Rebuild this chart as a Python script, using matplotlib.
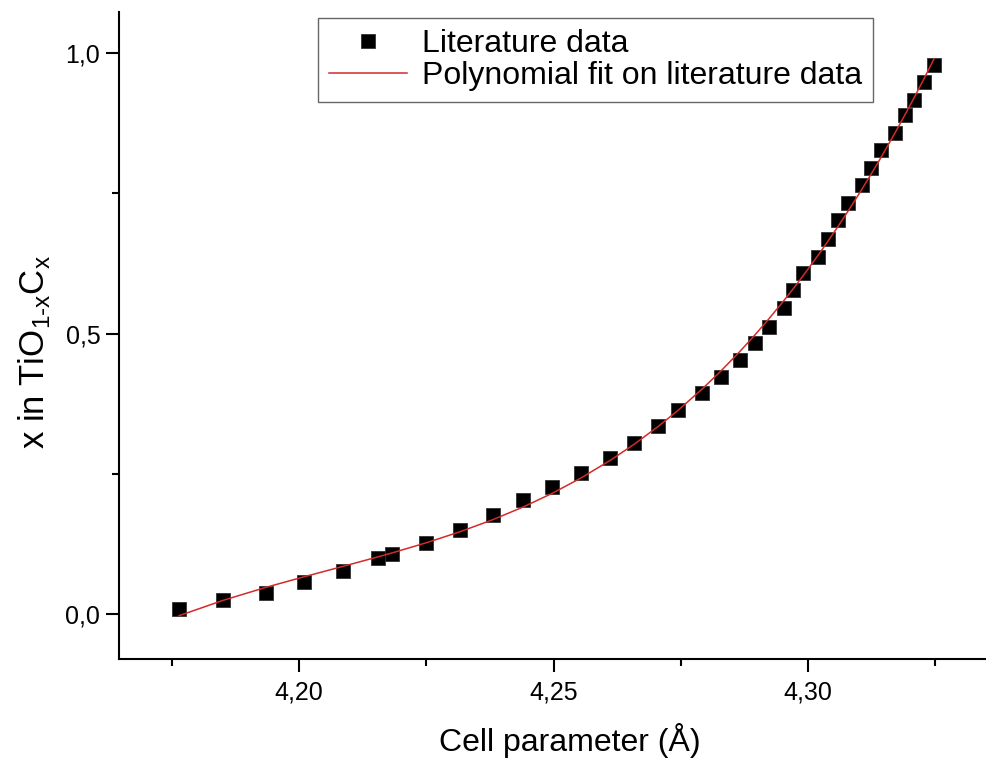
import numpy as np
import matplotlib
matplotlib.use('Agg')
import matplotlib.pyplot as plt
from matplotlib.ticker import MultipleLocator, FuncFormatter

plt.rcParams['font.family'] = ['Liberation Sans', 'DejaVu Sans']
plt.rcParams['mathtext.fontset'] = 'custom'
plt.rcParams['mathtext.rm'] = 'Liberation Sans'

# Literature data: cell parameter (Angstrom) vs carbon fraction x
cell_a = [4.1764, 4.1851, 4.1935, 4.2010, 4.2086, 4.2155, 4.2183, 4.2250,
          4.2316, 4.2381, 4.2440, 4.2497, 4.2554, 4.2611, 4.2658, 4.2705,
          4.2745, 4.2792, 4.2829, 4.2866, 4.2896, 4.2923, 4.2953, 4.2971,
          4.2990, 4.3020, 4.3039, 4.3059, 4.3079, 4.3106, 4.3124, 4.3143,
          4.3171, 4.3191, 4.3208, 4.3228, 4.3248]
x_frac = [0.009, 0.025, 0.037, 0.057, 0.077, 0.100, 0.107, 0.127,
          0.150, 0.176, 0.203, 0.226, 0.251, 0.278, 0.305, 0.335,
          0.364, 0.394, 0.422, 0.453, 0.483, 0.512, 0.545, 0.578,
          0.608, 0.636, 0.668, 0.702, 0.733, 0.765, 0.795, 0.827,
          0.857, 0.889, 0.916, 0.948, 0.979]

# Polynomial fit on the literature data
coef = np.polyfit(cell_a, x_frac, 3)
fit_y = np.polyval(coef, cell_a)

fig = plt.figure(figsize=(9.87, 7.59), dpi=100)
ax = fig.add_axes([0.1206, 0.1318, 0.8794, 0.8524])

ax.plot(cell_a, x_frac, linestyle='none', marker='s', markersize=10.5,
        color='black', markeredgecolor='#333333', markeredgewidth=0.6,
        label='Literature data', zorder=3)
ax.plot(cell_a, fit_y, color='#d42a2a', linewidth=1.1,
        label='Polynomial fit on literature data', zorder=4)

ax.set_xlim(4.1646, 4.3352)
ax.set_ylim(-0.080, 1.073)

# Origin style axes: only left and bottom, ticks out, comma decimals
ax.spines['top'].set_visible(False)
ax.spines['right'].set_visible(False)
for s in ['left', 'bottom']:
    ax.spines[s].set_linewidth(1.5)

ax.xaxis.set_major_locator(MultipleLocator(0.05))
ax.xaxis.set_minor_locator(MultipleLocator(0.025))
ax.yaxis.set_major_locator(MultipleLocator(0.5))
ax.yaxis.set_minor_locator(MultipleLocator(0.25))
ax.xaxis.set_major_formatter(FuncFormatter(lambda v, p: f"{v:.2f}".replace('.', ',')))
ax.yaxis.set_major_formatter(FuncFormatter(lambda v, p: f"{v:.1f}".replace('.', ',')))
ax.tick_params(which='major', direction='out', length=9.5, width=1.5,
               labelsize=18)
ax.tick_params(axis='x', which='major', pad=6)
ax.tick_params(axis='y', which='major', pad=4)
ax.tick_params(which='minor', direction='out', length=5, width=1.5)

ax.set_xlabel('Cell parameter (Å)', fontsize=23)
ax.set_ylabel(r'x in TiO$_{\text{1-x}}$C$_{\text{x}}$', fontsize=25)
ax.xaxis.set_label_coords(0.5196, -0.0983)
ax.yaxis.set_label_coords(-0.077, 0.4745)

leg = ax.legend(loc='upper left', bbox_to_anchor=(0.3222, 0.9763),
                bbox_transform=fig.transFigure, borderaxespad=0,
                fontsize=23, frameon=True, fancybox=False,
                edgecolor='#404040', handlelength=2.45, handletextpad=0.45,
                borderpad=0.35, labelspacing=0.05)
leg.get_frame().set_linewidth(1.0)

fig.savefig('out.png', dpi=100)
